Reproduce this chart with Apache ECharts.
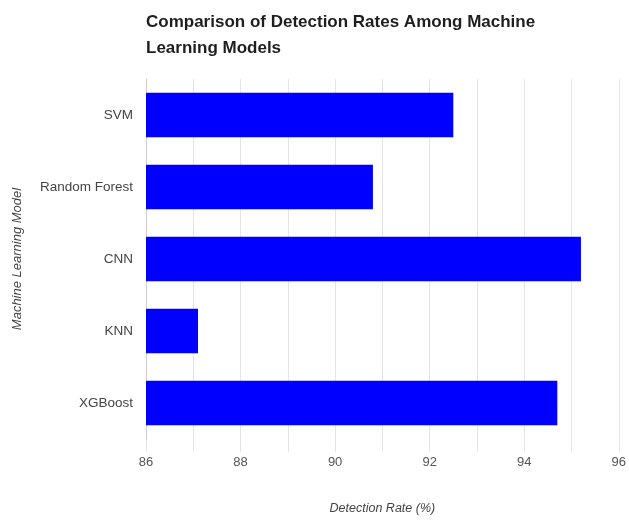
<!DOCTYPE html>
<html>
<head>
<meta charset="utf-8">
<script src="https://cdn.jsdelivr.net/npm/echarts@6/dist/echarts.min.js"></script>
<style>html,body{margin:0;padding:0;background:#fff;}#c{width:629px;height:520px;}</style>
</head>
<body>
<div id="c"></div>
<script>
const models = ['SVM', 'Random Forest', 'CNN', 'KNN', 'XGBoost'];
const detectionRates = [92.5, 90.8, 95.2, 87.1, 94.7];
const xMin = 86, xMax = 96, xStep = 1;

const chart = echarts.init(document.getElementById('c'), null, {renderer: 'canvas'});
chart.setOption({
  animation: false,
  backgroundColor: '#ffffff',
  title: {
    text: 'Comparison of Detection Rates Among Machine\nLearning Models',
    left: 141, top: 4,
    textStyle: {fontFamily: 'Liberation Sans, Arial, sans-serif', fontSize: 17, fontWeight: 'bold', color: '#1e1e1e', lineHeight: 26}
  },
  grid: {left: 146, right: 8, top: 79, bottom: 76, containLabel: false},
  xAxis: {
    type: 'value', min: xMin, max: xMax, interval: xStep,
    name: 'Detection Rate (%)', nameLocation: 'middle', nameGap: 63,
    nameTextStyle: {fontFamily: 'Liberation Sans, Arial, sans-serif', fontSize: 12.5, fontStyle: 'italic', color: '#444'},
    axisLine: {show: false},
    axisTick: {show: true, length: 13, lineStyle: {color: '#e4e4e4'}},
    axisLabel: {
      margin: 17, color: '#555', fontFamily: 'Liberation Sans, Arial, sans-serif', fontSize: 13,
      formatter: v => (Math.round(v) % 2 === 0 ? String(v) : '')
    },
    splitLine: {show: true, lineStyle: {color: '#e4e4e4', width: 1}}
  },
  yAxis: {
    type: 'category', data: models, inverse: true,
    name: 'Machine Learning Model', nameLocation: 'middle', nameGap: 122, nameRotate: 90,
    nameTextStyle: {fontFamily: 'Liberation Sans, Arial, sans-serif', fontSize: 13, fontStyle: 'italic', color: '#444'},
    axisLine: {show: true, lineStyle: {color: '#cccccc'}},
    axisTick: {show: false},
    axisLabel: {margin: 13, color: '#444', fontFamily: 'Liberation Sans, Arial, sans-serif', fontSize: 13.5},
    splitLine: {show: false}
  },
  series: [{
    type: 'bar', data: detectionRates, barCategoryGap: '38%',
    itemStyle: {color: '#0000ff'}
  }]
});
</script>
</body>
</html>
